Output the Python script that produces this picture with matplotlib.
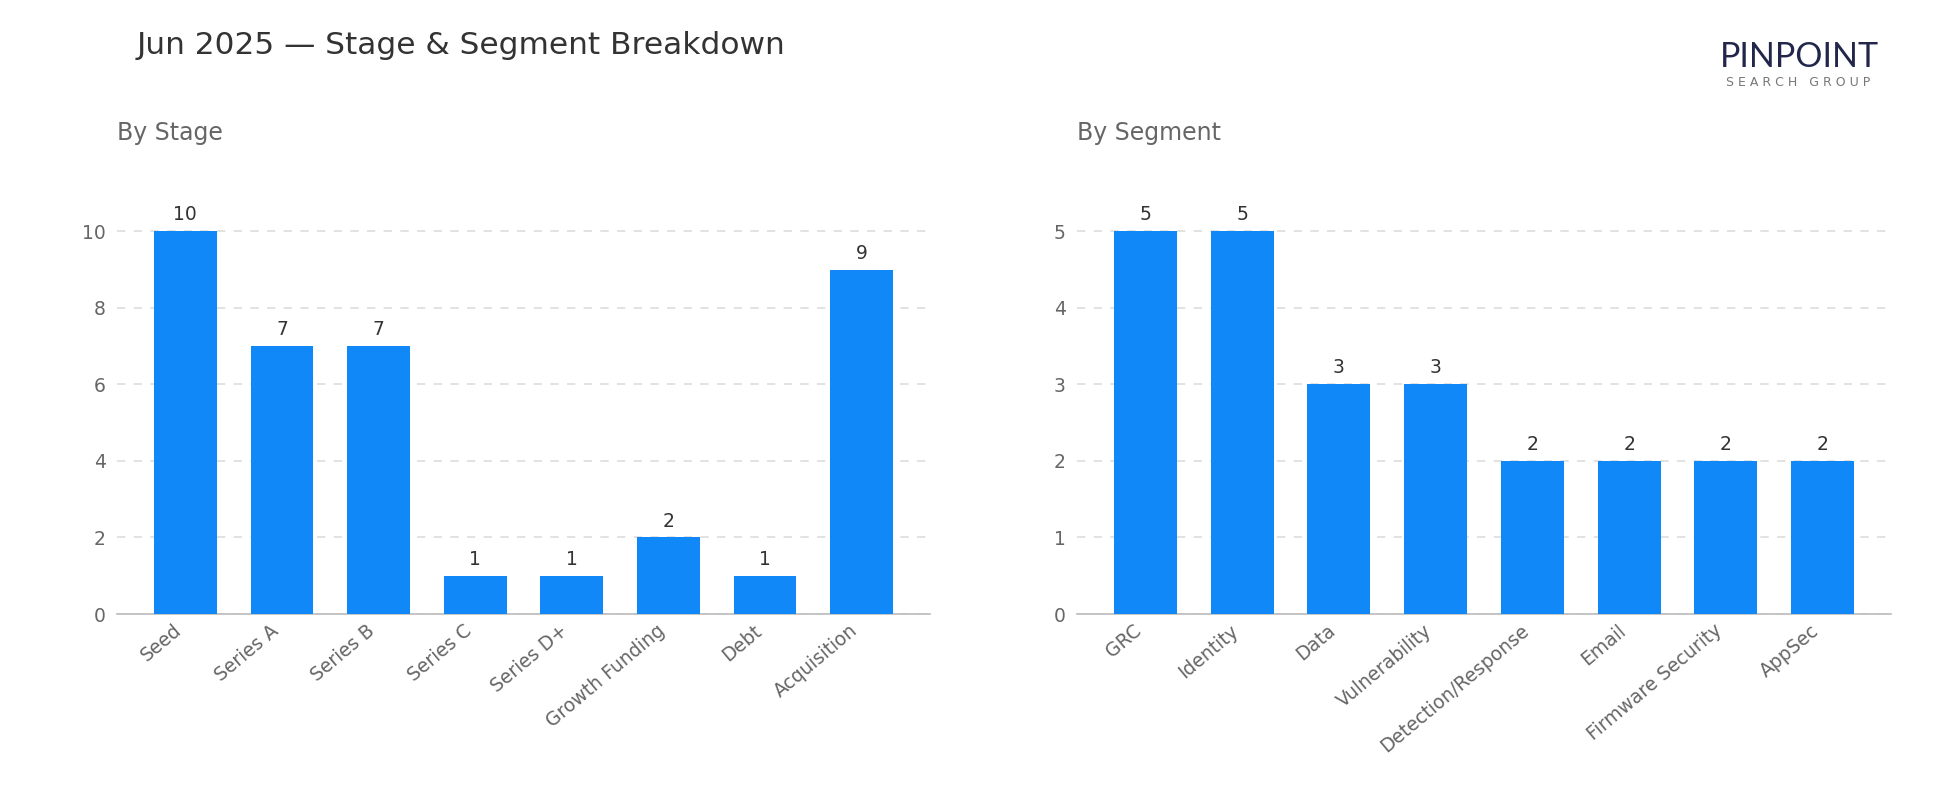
import matplotlib.pyplot as plt

stages = ['Seed', 'Series A', 'Series B', 'Series C', 'Series D+', 'Growth Funding', 'Debt', 'Acquisition']
stage_counts = [10, 7, 7, 1, 1, 2, 1, 9]

segments = ['GRC', 'Identity', 'Data', 'Vulnerability', 'Detection/Response', 'Email', 'Firmware Security', 'AppSec']
segment_counts = [5, 5, 3, 3, 2, 2, 2, 2]

bar_color = '#1188F8'
text_gray = '#666666'

fig = plt.figure(figsize=(19.5, 8.1), dpi=100)
ax1 = fig.add_axes([117 / 1950, 1 - 614 / 810, 813 / 1950, 440 / 810])
ax2 = fig.add_axes([1077 / 1950, 1 - 614 / 810, 814 / 1950, 440 / 810])


def draw(ax, labels, values, subtitle, step):
    x = range(len(labels))
    bars = ax.bar(x, values, width=0.65, color=bar_color, zorder=3)
    for b, v in zip(bars, values):
        ax.annotate(str(v), (b.get_x() + b.get_width() / 2, v), xytext=(0, 5),
                    textcoords='offset points', ha='center', va='bottom',
                    fontsize=13.5, color='#333333')
    ax.set_ylim(0, max(values) * 1.15)
    ax.set_yticks(range(0, max(values) + 1, step))
    ax.set_xticks(list(x))
    ax.set_xticklabels(labels, rotation=40, ha='right')
    ax.tick_params(axis='both', length=0, labelsize=13.5, colors=text_gray, pad=8)
    ax.tick_params(axis='x', pad=5)
    for s in ['top', 'right', 'left']:
        ax.spines[s].set_visible(False)
    ax.spines['bottom'].set_color('#bbbbbb')
    ax.spines['bottom'].set_linewidth(1.2)
    ax.grid(axis='y', linestyle=(0, (5, 5)), color='#dddddd', linewidth=1.2, zorder=0)
    ax.set_axisbelow(True)
    ax.text(0, 1.065, subtitle, transform=ax.transAxes, fontsize=17, color=text_gray,
            ha='left', va='bottom')


draw(ax1, stages, stage_counts, 'By Stage', 2)
draw(ax2, segments, segment_counts, 'By Segment', 1)

fig.text(137 / 1950, 1 - 46 / 810, 'Jun 2025 \u2014 Stage & Segment Breakdown',
         fontsize=22.5, color='#333333', ha='left', va='center')

# logo
fig.text(1799 / 1950, 1 - 57 / 810, 'PINPOINT', fontsize=24.5, color='#22264a',
         ha='center', va='center', fontfamily='Lato')
fig.text(1798 / 1950, 1 - 83 / 810, 'S E A R C H   G R O U P', fontsize=9,
         color='#777777', ha='center', va='center')

fig.savefig('out.png', dpi=100, facecolor='white')
